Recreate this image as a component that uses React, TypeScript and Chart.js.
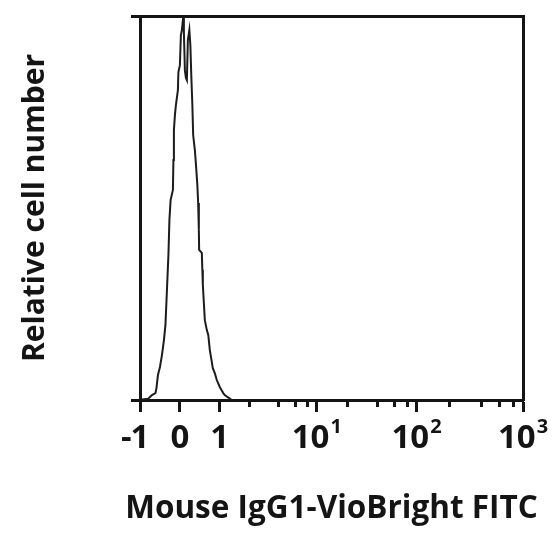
import React, { useEffect, useRef } from "react";
import { Chart, LinearScale, registerables } from "chart.js";

Chart.register(...registerables);

// ---- data ----
const binValues = [
  -0.95, -0.8, -0.75, -0.7, -0.6125, -0.5875, -0.55, -0.5, -0.45, -0.4, -0.3625,
  -0.325, -0.2875, -0.2625, -0.2325, -0.175, -0.1625, -0.15, -0.125, -0.1, -0.05,
  -0.0375, 0, 0.025, 0.05, 0.0825, 0.1, 0.125, 0.15, 0.175, 0.2, 0.2375, 0.2625,
  0.2875, 0.3125, 0.3325, 0.375, 0.4, 0.4375, 0.4575, 0.475, 0.4825, 0.55, 0.5625,
  0.575, 0.625, 0.675, 0.7125, 0.75, 0.7925, 0.825, 0.875, 0.925, 0.9575, 1.0,
  1.041, 1.086, 1.126, 1.195, 1.267, 1.329,
];
const cellCounts = [
  0.1, 0.3, 0.8, 1.3, 1.8, 3.1, 6.5, 8.6, 11.7, 15.6, 19.5, 28.6, 37.8, 46.9, 52.1,
  54.7, 62.5, 70.3, 74.2, 76.8, 80.7, 85.4, 87.2, 95, 96.4, 99.7, 95.8, 85.9, 83.9,
  83.3, 93.8, 96.4, 92.4, 83.9, 76.8, 69, 65.1, 61.7, 56, 51.3, 44.3, 39.1, 38.3,
  33.9, 30, 20.8, 18.2, 16.9, 13, 10.4, 8.3, 7, 5.2, 4.4, 3.4, 2.6, 1.8, 1.3, 0.8,
  0.4, 0,
];
const majorTicks = [-1, 0, 1, 10, 100, 1000];
const majorTickLabels = ["-1", "0", "1", "10", "10", "10"];
const majorTickExponents = ["", "", "", "1", "2", "3"];
const minorTicks = [2, 4, 6, 8, 20, 40, 60, 80, 200, 400, 600, 800];
const yTicks = [0, 100];
const xTitle = "Mouse IgG1-VioBright FITC";
const yTitle = "Relative cell number";

// ---- hybrid (linear around zero, log above 1) scale definition ----
const LOG_ANCHORS = [0, 1, 2, 3];
const U_ANCHORS = [1, 3.43, 5.93, 8.6];
function fwd(v: number): number {
  if (v <= 1) return v;
  const l = Math.log10(v);
  for (let i = 0; i < LOG_ANCHORS.length - 1; i++) {
    if (l <= LOG_ANCHORS[i + 1] || i === LOG_ANCHORS.length - 2) {
      const t = (l - LOG_ANCHORS[i]) / (LOG_ANCHORS[i + 1] - LOG_ANCHORS[i]);
      return U_ANCHORS[i] + t * (U_ANCHORS[i + 1] - U_ANCHORS[i]);
    }
  }
  return U_ANCHORS[U_ANCHORS.length - 1];
}
function inv(u: number): number {
  if (u <= 1) return u;
  for (let i = 0; i < U_ANCHORS.length - 1; i++) {
    if (u <= U_ANCHORS[i + 1] || i === U_ANCHORS.length - 2) {
      const t = (u - U_ANCHORS[i]) / (U_ANCHORS[i + 1] - U_ANCHORS[i]);
      return Math.pow(10, LOG_ANCHORS[i] + t * (LOG_ANCHORS[i + 1] - LOG_ANCHORS[i]));
    }
  }
  return 1000;
}

class HybridScale extends LinearScale {
  static id = "hybrid";
  static defaults = (LinearScale as any).defaults;
  _uStart = 0;
  _uEnd = 1;
  buildTicks() {
    return majorTicks.map((v) => ({ value: v }));
  }
  configure() {
    super.configure();
    this._uStart = fwd(this.min);
    this._uEnd = fwd(this.max);
  }
  getPixelForValue(value: number) {
    if (value === null || value === undefined) return NaN;
    return this.getPixelForDecimal((fwd(value) - this._uStart) / (this._uEnd - this._uStart));
  }
  getValueForPixel(pixel: number) {
    return inv(this._uStart + this.getDecimalForPixel(pixel) * (this._uEnd - this._uStart));
  }
}
Chart.register(HybridScale as any);

const INK = "#141414";
const FONT = '"Open Sans", "DejaVu Sans", sans-serif';

const axisDecor = {
  id: "axisDecor",
  afterDraw(chart: any) {
    const xs = chart.scales.x;
    const ctx = chart.ctx as CanvasRenderingContext2D;
    const area = chart.chartArea;
    const bottom = area.bottom;
    ctx.save();
    // minor ticks
    ctx.strokeStyle = INK;
    ctx.lineWidth = 3;
    minorTicks.forEach((v) => {
      const px = Math.round(xs.getPixelForValue(v)) + 0.5;
      ctx.beginPath();
      ctx.moveTo(px, bottom);
      ctx.lineTo(px, bottom + 7);
      ctx.stroke();
    });
    // tick labels with superscripts
    ctx.fillStyle = INK;
    ctx.textBaseline = "alphabetic";
    ctx.textAlign = "left";
    const baseY = bottom + 48;
    majorTicks.forEach((v, i) => {
      const px = xs.getPixelForValue(v);
      const label = majorTickLabels[i];
      const neg = label.startsWith("-");
      const body = neg ? label.slice(1) : label;
      const exp = majorTickExponents[i];
      ctx.font = `bold 20px ${FONT}`;
      const ew = exp ? ctx.measureText(exp).width + 1 : 0;
      ctx.font = `bold 33px ${FONT}`;
      const w = ctx.measureText(body).width;
      const start = px - (w + ew) / 2;
      ctx.fillText(body, start, baseY);
      if (neg) {
        ctx.textAlign = "right";
        ctx.fillText("-", start + 1, baseY);
        ctx.textAlign = "left";
      }
      if (exp) {
        ctx.font = `bold 20px ${FONT}`;
        ctx.fillText(exp, start + w + 1, baseY - 15);
      }
    });
    // x axis title (centred under the plot area, not width-limited)
    ctx.font = `bold 31.5px ${FONT}`;
    ctx.textAlign = "center";
    ctx.textBaseline = "middle";
    ctx.fillText(xTitle, (area.left + area.right) / 2, bottom + 109);
    ctx.restore();
  },
};

export default function App() {
  const ref = useRef<HTMLCanvasElement>(null);
  useEffect(() => {
    document.body.style.margin = "0";
    const canvas = ref.current;
    if (!canvas) return;
    const chart = new Chart(canvas, {
      type: "line",
      data: {
        datasets: [
          {
            data: binValues.map((x, i) => ({ x, y: cellCounts[i] })),
            borderColor: "#1c1c1c",
            borderWidth: 2,
            pointRadius: 0,
            fill: false,
            tension: 0,
          },
        ],
      },
      options: {
        responsive: false,
        animation: false,
        layout: { padding: { top: 16, right: 29, left: 0, bottom: 0 } },
        plugins: { legend: { display: false }, tooltip: { enabled: false } },
        scales: {
          x: {
            type: "hybrid" as any,
            position: "bottom",
            min: -1,
            max: 1000,
            grid: { display: true, drawOnChartArea: false, drawTicks: true, tickLength: 12, tickWidth: 3, tickColor: INK },
            border: { display: true, width: 3, color: INK },
            ticks: { display: false },
            title: { display: false },
            afterFit: (s: any) => {
              s.height = 137;
            },
          },
          y: {
            type: "linear",
            position: "left",
            min: 0,
            max: 100,
            afterBuildTicks: (s: any) => {
              s.ticks = yTicks.map((v) => ({ value: v }));
            },
            grid: { display: true, drawOnChartArea: false, drawTicks: true, tickLength: 9, tickWidth: 3, tickColor: INK },
            border: { display: true, width: 3, color: INK },
            ticks: { display: false },
            title: {
              display: true,
              text: yTitle,
              color: INK,
              font: { family: FONT, size: 30, weight: "bold" },
              padding: { top: 17, bottom: 0 },
            },
            afterFit: (s: any) => {
              s.width = 140;
            },
          },
          xTop: {
            type: "linear",
            position: "top",
            min: 0,
            max: 1,
            grid: { display: true, drawOnChartArea: false, drawTicks: false },
            border: { display: true, width: 3, color: INK },
            ticks: { display: false },
            afterFit: (s: any) => {
              s.height = 0;
            },
          },
          yRight: {
            type: "linear",
            position: "right",
            min: 0,
            max: 1,
            grid: { display: true, drawOnChartArea: false, drawTicks: false },
            border: { display: true, width: 3, color: INK },
            ticks: { display: false },
            afterFit: (s: any) => {
              s.width = 0;
            },
          },
        },
      },
      plugins: [axisDecor],
    } as any);
    return () => chart.destroy();
  }, []);
  return (
    <div style={{ width: 552, height: 537 }}>
      <canvas ref={ref} width={552} height={537} style={{ display: "block" }} />
    </div>
  );
}
